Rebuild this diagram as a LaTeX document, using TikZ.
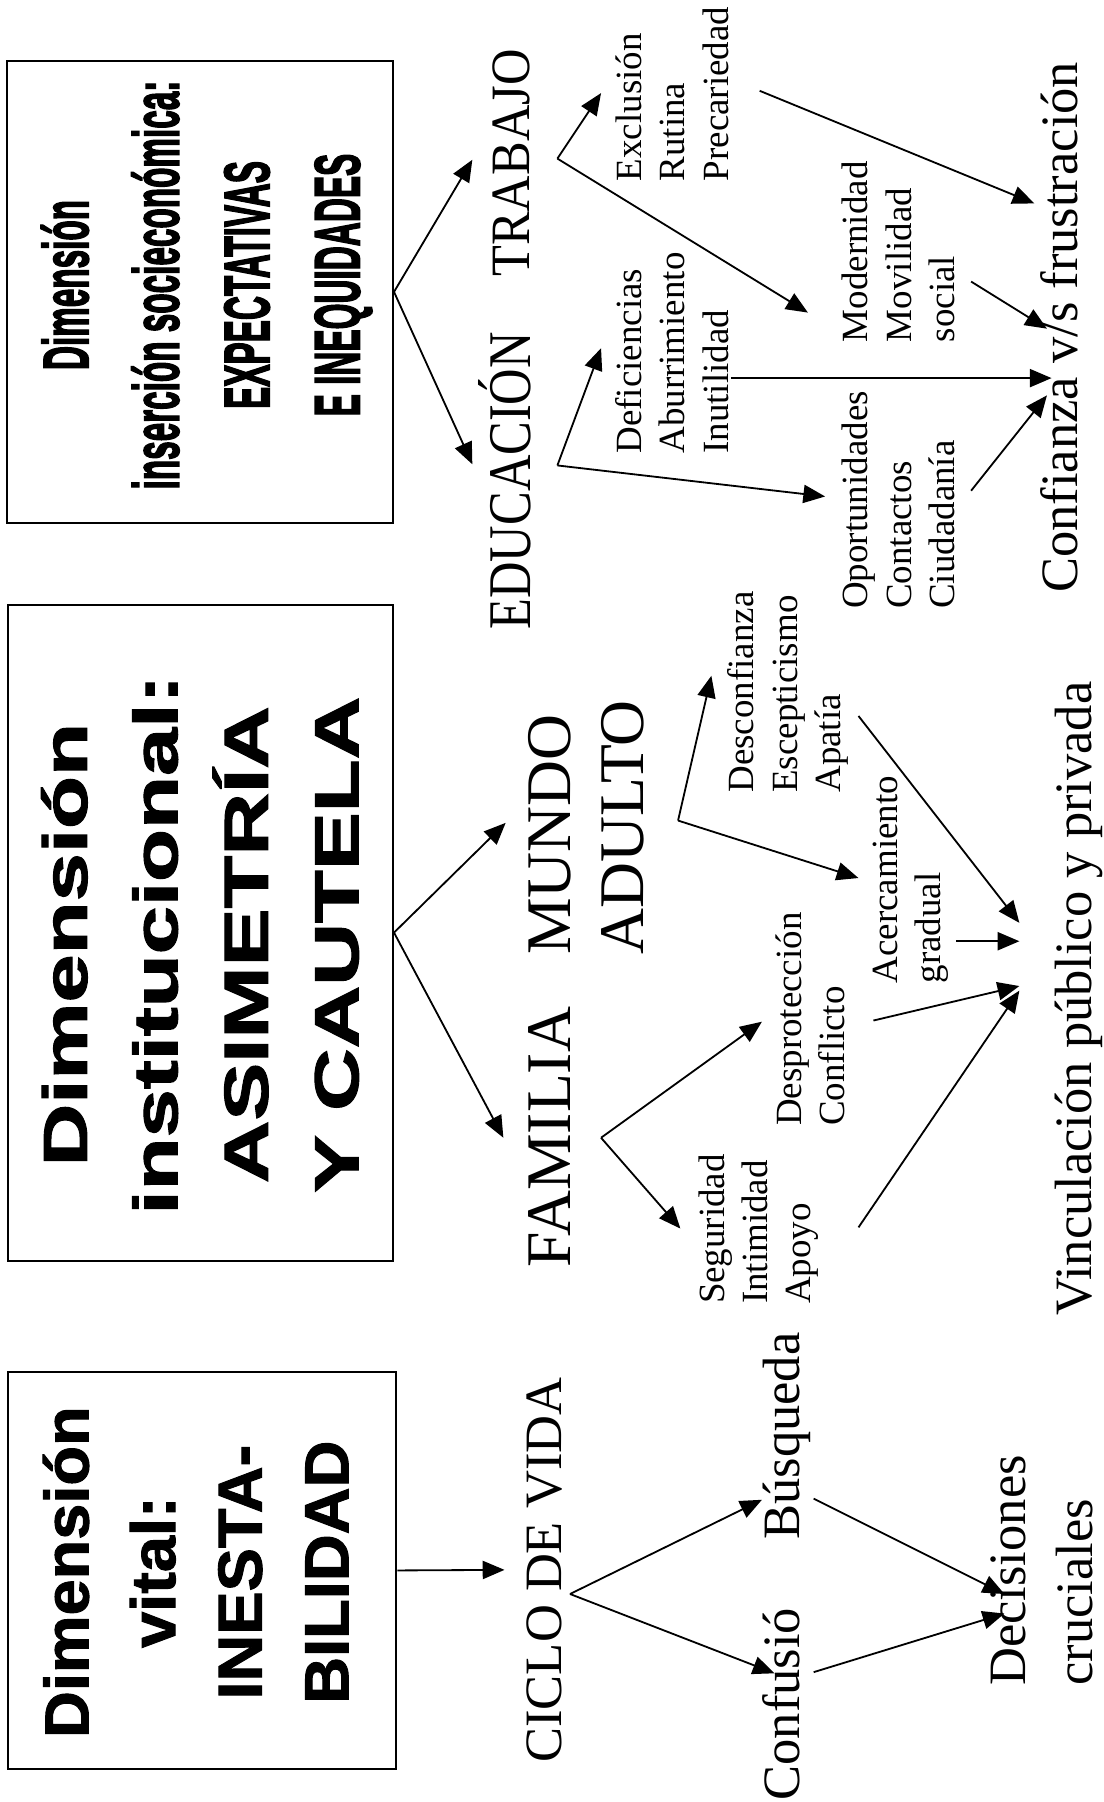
\documentclass[tikz,border=0pt]{standalone}
\usepackage{fontspec}
\setmainfont{Liberation Serif}
\newfontfamily\boxfont{Liberation Sans}[FakeBold=1.5]
\newfontfamily\heavyfont{Liberation Sans}[FakeBold=3]
\usetikzlibrary{arrows.meta}

% lines of a label, left aligned, first baseline on top
\newcommand{\leftlines}[1]{\begin{tabular}[t]{@{}l@{}}#1\end{tabular}}
% lines of a box title, centred and stretched
\newcommand{\dimlines}[2]{\scalebox{#1}[1]{\begin{tabular}{@{}c@{}}#2\end{tabular}}}

\tikzset{
  dimbox/.style={draw, line width=1pt, inner sep=0pt},
  dimtxt/.style={rotate=90, inner sep=0pt},
  lbl/.style={rotate=90, inner sep=0pt, anchor=base west},
  biglbl/.style={lbl, font=\fontsize{26}{33.4}\selectfont},
  smalllbl/.style={lbl, font=\fontsize{18.3}{21.5}\selectfont},
  arr/.style={-{Triangle[length=10.8pt,width=9pt]}, line width=0.9pt},
}

\begin{document}
\begin{tikzpicture}[x=0.02cm, y=-0.02cm]
      \useasboundingbox (0,0) rectangle (960,1568);

      % the three boxes of dimensions
      \node[dimbox, minimum width=6.72cm, minimum height=8.04cm] (box1) at (174,254) {};
      \node[dimbox, minimum width=6.70cm, minimum height=11.42cm] (box2) at (174.5,811.5) {};
      \node[dimbox, minimum width=6.76cm, minimum height=6.90cm] (box3) at (176,1366.5) {};

      % titles inside the boxes
      \node[dimtxt, font=\heavyfont\bfseries\fontsize{31.7}{44.8}\selectfont] (dimsoc) at (179,248)
        {\dimlines{0.52}{Dimensión\\inserción socieconómica:\\EXPECTATIVAS\\E INEQUIDADES}};
      \node[dimtxt, font=\boxfont\bfseries\fontsize{30.9}{44.8}\selectfont] (diminst) at (178,822)
        {\dimlines{1.39}{Dimensión\\institucional:\\ASIMETRÍA\\Y CAUTELA}};
      \node[dimtxt, font=\boxfont\bfseries\fontsize{30.9}{42.9}\selectfont] (dimvit) at (175,1368)
        {\dimlines{1.04}{Dimensión\\vital:\\INESTA-\\BILIDAD}};

      % second column
      \node[lbl, font=\fontsize{25}{30}\selectfont] (educ) at (462,548) {\scalebox{1}[1.2]{EDUCACIÓN}};
      \node[lbl, font=\fontsize{25}{30}\selectfont] (trab) at (461,241) {\scalebox{1}[1.1]{TRABAJO}};
      \node[lbl, font=\fontsize{31.5}{36.3}\selectfont] (familia) at (496,1103) {FAMILIA};
      \node[lbl, font=\fontsize{31.5}{36.3}\selectfont] (mundo) at (496,831) {\leftlines{MUNDO\\ADULTO}};
      \node[biglbl] (ciclo) at (489,1534) {CICLO DE VIDA};

      % third column
      \node[smalllbl] (excl) at (558,158) {\leftlines{Exclusión\\Rutina\\Precariedad}};
      \node[smalllbl] (defic) at (558,395) {\leftlines{Deficiencias\\Aburrimiento\\Inutilidad}};
      \node[smalllbl] (modern) at (755,298) {\leftlines{Modernidad\\Movilidad\\social}};
      \node[smalllbl] (oport) at (755,530) {\leftlines{Oportunidades\\Contactos\\Ciudadanía}};
      \node[smalllbl] (descon) at (656,690) {\leftlines{Desconfianza\\Escepticismo\\Apatía}};
      \node[smalllbl] (acerc) at (781,856) {\leftlines{Acercamiento\\gradual}};
      \node[smalllbl] (despro) at (697,980) {\leftlines{Desprotección\\Conflicto}};
      \node[smalllbl] (segur) at (630,1135) {\leftlines{Seguridad\\Intimidad\\Apoyo}};
      \node[biglbl] (busq) at (696,1340) {Búsqueda};
      \node[biglbl] (confu) at (696,1567) {Confusió};

      % results
      \node[biglbl] (confi) at (938,516) {Confianza v/s frustración};
      \node[biglbl] (vincu) at (950,1145) {Vinculación público y privada};
      \node[biglbl] (decis) at (892,1467) {\leftlines{Decisiones\\cruciales}};

      % corners and free ends of the arrows
      \coordinate (to-trab) at (411,139);
      \coordinate (to-educ) at (411,404);
      \coordinate (to-mundo) at (440,716);
      \coordinate (to-fam) at (438,990);
      \coordinate (to-ciclo) at (439,1366);
      \coordinate (trab-v) at (485,138);
      \coordinate (educ-v) at (485,405);
      \coordinate (fam-v) at (523,990);
      \coordinate (mun-v) at (590,714);
      \coordinate (cic-v) at (496,1387);
      \coordinate (to-excl) at (523,81);
      \coordinate (to-modern) at (703,272);
      \coordinate (to-defic) at (523,303);
      \coordinate (to-oport) at (718,432);
      \coordinate (to-descon) at (619,588);
      \coordinate (to-acerc) at (747,764);
      \coordinate (to-segur) at (592,1069);
      \coordinate (to-despro) at (663,889);
      \coordinate (to-busq) at (663,1305);
      \coordinate (to-confu) at (674,1456);

      % Draw arrows from the boxes
      \draw[arr] (box1.east) -- (to-trab);
      \draw[arr] (box1.east) -- (to-educ);
      \draw[arr] (box2.east) -- (to-mundo);
      \draw[arr] (box2.east) -- (to-fam);
      \draw[arr] (box3.east) -- (to-ciclo);

      % Draw the forks
      \draw[arr] (trab-v) -- (to-excl);
      \draw[arr] (trab-v) -- (to-modern);
      \draw[arr] (educ-v) -- (to-defic);
      \draw[arr] (educ-v) -- (to-oport);
      \draw[arr] (mun-v) -- (to-descon);
      \draw[arr] (mun-v) -- (to-acerc);
      \draw[arr] (fam-v) -- (to-segur);
      \draw[arr] (fam-v) -- (to-despro);
      \draw[arr] (cic-v) -- (to-busq);
      \draw[arr] (cic-v) -- (to-confu);

      % Arrows into Confianza v/s frustracion
      \coordinate (from-prec) at (661,79);
      \coordinate (from-social) at (845,245);
      \coordinate (from-inut) at (636,329);
      \coordinate (from-ciud) at (845,427);
      \draw[arr] (from-prec) -- (900,177) coordinate (in-frus);
      \draw[arr] (from-social) -- (911,286) coordinate (in-conf1);
      \draw[arr] (from-inut) -- (915,329) coordinate (in-conf2);
      \draw[arr] (from-ciud) -- (911,344) coordinate (in-conf3);

      % Arrows into Vinculacion
      \coordinate (from-apat) at (747,623);
      \coordinate (from-grad) at (832,819);
      \coordinate (from-confl) at (760,888);
      \coordinate (from-apoyo) at (747,1068);
      \draw[arr] (from-apat) -- (887,803) coordinate (in-vinc1);
      \draw[arr] (from-grad) -- (887,819) coordinate (in-vinc2);
      \draw[arr] (from-confl) -- (887,858) coordinate (in-vinc3);
      \draw[arr] (from-apoyo) -- (887,862) coordinate (in-vinc4);

      % Arrows into Decisiones cruciales
      \coordinate (from-busq) at (708,1304);
      \coordinate (from-confu) at (708,1455);
      \draw[arr] (from-busq) -- (874,1387) coordinate (in-dec1);
      \draw[arr] (from-confu) -- (874,1404) coordinate (in-dec2);
\end{tikzpicture}
\end{document}
